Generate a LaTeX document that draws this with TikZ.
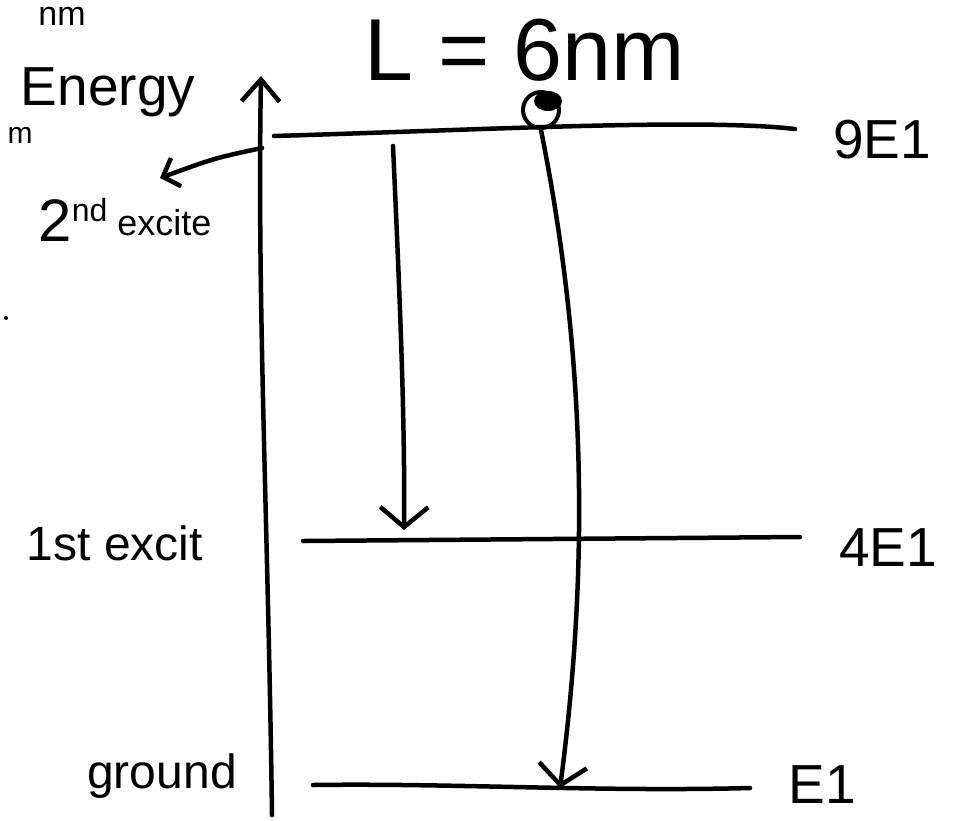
\documentclass[tikz,border=0pt]{standalone}
\usepackage{fontspec}
\setmainfont{Liberation Sans}
\usetikzlibrary{arrows.meta}
\begin{document}
\begin{tikzpicture}[x=1pt,y=-1pt,line width=4.5pt,line cap=round,line join=round,
  level/.style={line width=4.5pt},
  bigarrow/.style={-{Straight Barb[length=20pt,width=48pt]}},
  lbl/.style={inner sep=0pt,anchor=center},
  ]
\useasboundingbox (0,0) rectangle (963,820);
\clip (0,0) rectangle (963,820);
% energy axis
\coordinate (axb) at (272,815);
\coordinate (axt) at (261,76);
\draw[-{Straight Barb[length=22pt,width=38pt]}] (axb) .. controls (268,520) and (257,300) .. (axt);
% levels
\coordinate (tl) at (274,136);
\coordinate (tr) at (795,129);
\coordinate (ml) at (303,541);
\coordinate (mr) at (800,537);
\coordinate (bl) at (313,785);
\coordinate (br) at (750,788);
\draw[level] (tl) .. controls (480,130) and (700,118) .. (tr);
\draw[level] (ml) -- (mr);
\draw[level] (bl) .. controls (450,783) and (600,792) .. (br);
% electron
\node[circle,draw,line width=4pt,minimum size=36pt,inner sep=0pt] (el) at (541,110) {};
\fill (548,101) ellipse (14pt and 10pt);
% transitions
\coordinate (a1s) at (393,146);
\coordinate (a1e) at (404,530);
\draw[bigarrow] (a1s) .. controls (400,300) and (405,420) .. (a1e);
\coordinate (a2e) at (560,788);
\draw[bigarrow] (el.south) .. controls (585,350) and (590,560) .. (a2e);
% leader to 2nd excited
\coordinate (lead) at (262,148);
\coordinate (leadend) at (160,178);
\draw[-{Straight Barb[length=14pt,width=30pt]}] (lead) .. controls (215,158) .. (leadend);
% labels
\node[lbl] (L) at (525,50) {\fontsize{88}{88}\selectfont L = 6nm};
\node[lbl] (energy) at (108,92) {\fontsize{55}{55}\selectfont Energy};
\node[lbl] (nine) at (882,140) {\fontsize{55}{55}\selectfont 9E1};
\node[lbl] (four) at (888,548) {\fontsize{55}{55}\selectfont 4E1};
\node[lbl] (one) at (822,785) {\fontsize{55}{55}\selectfont E1};
\node[lbl] (first) at (115,543) {\fontsize{48}{48}\selectfont 1st excit};
\node[lbl] (ground) at (162,776) {\fontsize{48}{48}\selectfont ground};
\node[lbl] (second) at (125,220) {\fontsize{60}{60}\selectfont 2\raisebox{20pt}{\fontsize{32}{32}\selectfont nd}\,\raisebox{6pt}{\fontsize{36}{36}\selectfont excite}};
% small fragments near the edge
\node[lbl] (frag1) at (62,16) {\fontsize{34}{34}\selectfont nm};
\node[lbl] (frag2) at (20,135) {\fontsize{30}{30}\selectfont m};
\fill (6,318) circle (2pt);
\end{tikzpicture}
\end{document}
